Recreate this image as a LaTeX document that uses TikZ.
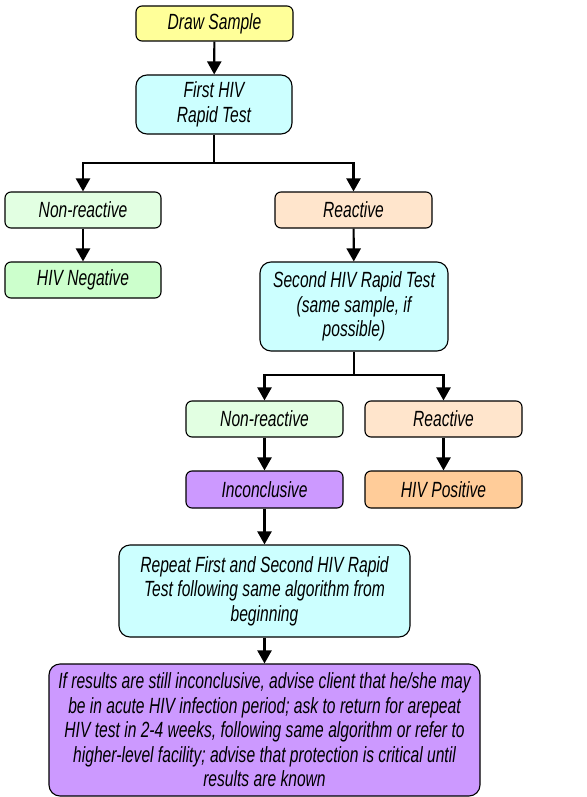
\documentclass[tikz,border=0pt]{standalone}
\usepackage{fontspec}
\setmainfont{Liberation Sans}[FakeStretch=0.71]
\usetikzlibrary{arrows.meta}
\definecolor{cyel}{HTML}{FFFF99}
\definecolor{ccyan}{HTML}{CCFFFF}
\definecolor{clgreen}{HTML}{E2FFE2}
\definecolor{cgreen}{HTML}{CCFFCC}
\definecolor{cpeach}{HTML}{FFE5CC}
\definecolor{corange}{HTML}{FFCC99}
\definecolor{cpurple}{HTML}{CC99FF}
\tikzset{
  box/.style={draw=black, line width=1.1pt, rounded corners=6pt, inner sep=0pt,
    align=center, font=\fontsize{22}{24.5}\selectfont\itshape},
  bigbox/.style={box, rounded corners=11pt},
  conn/.style={line width=2.2pt, -{Triangle[width=14pt,length=13pt]}},
  plain/.style={line width=2.2pt}
}
\begin{document}
\begin{tikzpicture}[x=1pt,y=-1pt]
\useasboundingbox (0,0) rectangle (586,797);
\node[box, fill=cyel, minimum width=157pt, minimum height=35pt] (draw) at (214.5,23.5) {Draw Sample};
\node[bigbox, fill=ccyan, minimum width=156pt, minimum height=59pt] (first) at (214,104.5) {First HIV\\Rapid Test};
\node[box, fill=clgreen, minimum width=156pt, minimum height=36pt] (nr1) at (83,210) {Non-reactive};
\node[box, fill=cgreen, minimum width=156pt, minimum height=36pt] (neg) at (83,280) {HIV Negative};
\node[box, fill=cpeach, minimum width=157pt, minimum height=36pt] (r1) at (353.5,210) {Reactive};
\node[bigbox, fill=ccyan, minimum width=188pt, minimum height=89pt] (second) at (354,306.5) {Second HIV Rapid Test\\(same sample, if\\possible)};
\node[box, fill=clgreen, minimum width=157pt, minimum height=36pt] (nr2) at (264.5,419) {Non-reactive};
\node[box, fill=cpeach, minimum width=157pt, minimum height=36pt] (r2) at (443.5,419) {Reactive};
\node[box, fill=cpurple, minimum width=157pt, minimum height=37pt] (inc) at (264.5,489.5) {Inconclusive};
\node[box, fill=corange, minimum width=157pt, minimum height=37pt] (pos) at (443.5,489.5) {HIV Positive};
\node[bigbox, fill=ccyan, minimum width=291pt, minimum height=92pt] (rep) at (264.5,591) {Repeat First and Second HIV Rapid\\Test following same algorithm from\\beginning};
\node[bigbox, fill=cpurple, minimum width=431pt, minimum height=132pt] (fin) at (264.5,730) {If results are still inconclusive, advise client that he/she may\\be in acute HIV infection period; ask to return for arepeat\\HIV test in 2-4 weeks, following same algorithm or refer to\\higher-level facility; advise that protection is critical until\\results are known};
\coordinate (b1) at (214,163);
\coordinate (b2) at (354,375);
\draw[conn] (draw) -- (first);
\draw[plain] (first.south) -- (b1);
\draw[conn] (b1) -| (nr1.north);
\draw[conn] (b1) -| (r1.north);
\draw[conn] (nr1) -- (neg);
\draw[conn] (r1) -- (second);
\draw[plain] (second.south) -- (b2);
\draw[conn] (b2) -| (nr2.north);
\draw[conn] (b2) -| (r2.north);
\draw[conn] (nr2) -- (inc);
\draw[conn] (r2) -- (pos);
\draw[conn] (inc) -- (rep);
\draw[conn] (rep) -- (fin);
\end{tikzpicture}
\end{document}
